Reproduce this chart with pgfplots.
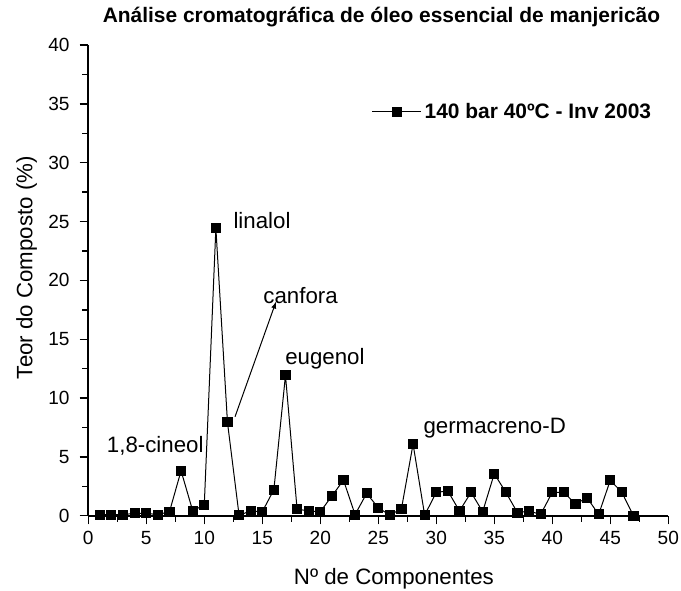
\documentclass[border=0pt]{standalone}
\usepackage{fontspec}
\setmainfont{Liberation Sans}
\usepackage{pgfplots}
\pgfplotsset{compat=1.18}
\begin{document}
\begin{tikzpicture}
\useasboundingbox (-66.2pt,-55.7pt) rectangle (444.55pt,386.8pt);
\begin{axis}[
  at={(0pt,0pt)}, anchor=south west,
  scale only axis, width=435pt, height=353pt,
  xmin=0, xmax=50, ymin=0, ymax=40,
  axis lines*=left,
  axis line style={line width=1.2pt},
  tick align=outside,
  xtick={0,5,...,50}, ytick={0,5,...,40},
  minor tick num=1,
  major tick length=6.5pt, minor tick length=4.5pt,
  every tick/.style={black, line width=1.1pt},
  /pgf/number format/assume math mode=true,
  tick label style={font=\fontsize{14.3}{16}\selectfont},
  yticklabel style={xshift=-4pt},
  xticklabel style={yshift=-1.5pt},
  label style={font=\fontsize{16.7}{19}\selectfont},
  xlabel={Nº de Componentes},
  ylabel={Teor do Composto (\%)},
  xlabel style={at={(axis description cs:0.527,-0.1457)}, anchor=base},
  ylabel style={at={(axis description cs:-0.0962,0.527)}, anchor=base, rotate=0},
  title={Análise cromatográfica de óleo essencial de manjericão},
  title style={font=\fontsize{15.7}{18}\selectfont\bfseries, at={(axis description cs:0.5055,1.032)}, anchor=base},
  legend style={draw=none, fill=none, at={(axis cs:24.43,34.32)}, anchor=west, inner sep=0pt, outer sep=0pt,
    font=\fontsize{15.7}{18}\selectfont\bfseries},
  legend cell align=left,
  legend image code/.code={\draw[mark repeat=2, mark phase=2, line width=0.75pt] plot coordinates {(0pt,0pt) (18.5pt,0pt) (37pt,0pt)};},
  clip=false,
]
\addplot[black, line width=0.75pt, mark=square*, mark size=3.4pt, mark options={solid, fill=black}] coordinates {
(1,0.1) (2,0.1) (3,0.1) (4,0.2) (5,0.2) (6,0.1) (7,0.34) (8,3.82) (9,0.43) (10,0.91)
(11,24.44) (12,7.94) (13,0.05) (14,0.4) (15,0.34) (16,2.21) (17,11.93) (18,0.57) (19,0.4) (20,0.34)
(21,1.67) (22,3.03) (23,0.1) (24,1.9) (25,0.68) (26,0.05) (27,0.6) (28,6.09) (29,0.05) (30,1.99)
(31,2.1) (32,0.4) (33,1.99) (34,0.34) (35,3.57) (36,1.99) (37,0.26) (38,0.4) (39,0.11) (40,1.99)
(41,1.99) (42,0.99) (43,1.53) (44,0.11) (45,3.01) (46,1.99) (47,0)
};
\addlegendentry{140 bar 40ºC - Inv 2003}
\node[anchor=west, inner sep=0pt, font=\fontsize{16.7}{19}\selectfont] at (axis cs:12.5,25.12) {linalol};
\node[anchor=west, inner sep=0pt, font=\fontsize{16.7}{19}\selectfont] at (axis cs:15.08,18.73) {canfora};
\node[anchor=west, inner sep=0pt, font=\fontsize{16.7}{19}\selectfont] at (axis cs:16.96,13.37) {eugenol};
\node[anchor=west, inner sep=0pt, font=\fontsize{16.7}{19}\selectfont] at (axis cs:1.59,5.94) {1,8-cineol};
\node[anchor=west, inner sep=0pt, font=\fontsize{16.7}{19}\selectfont] at (axis cs:28.88,7.43) {germacreno-D};
\draw[-latex, line width=0.75pt] (axis cs:12.65,8.41) -- (axis cs:16.18,18.18);
\end{axis}
\end{tikzpicture}
\end{document}
